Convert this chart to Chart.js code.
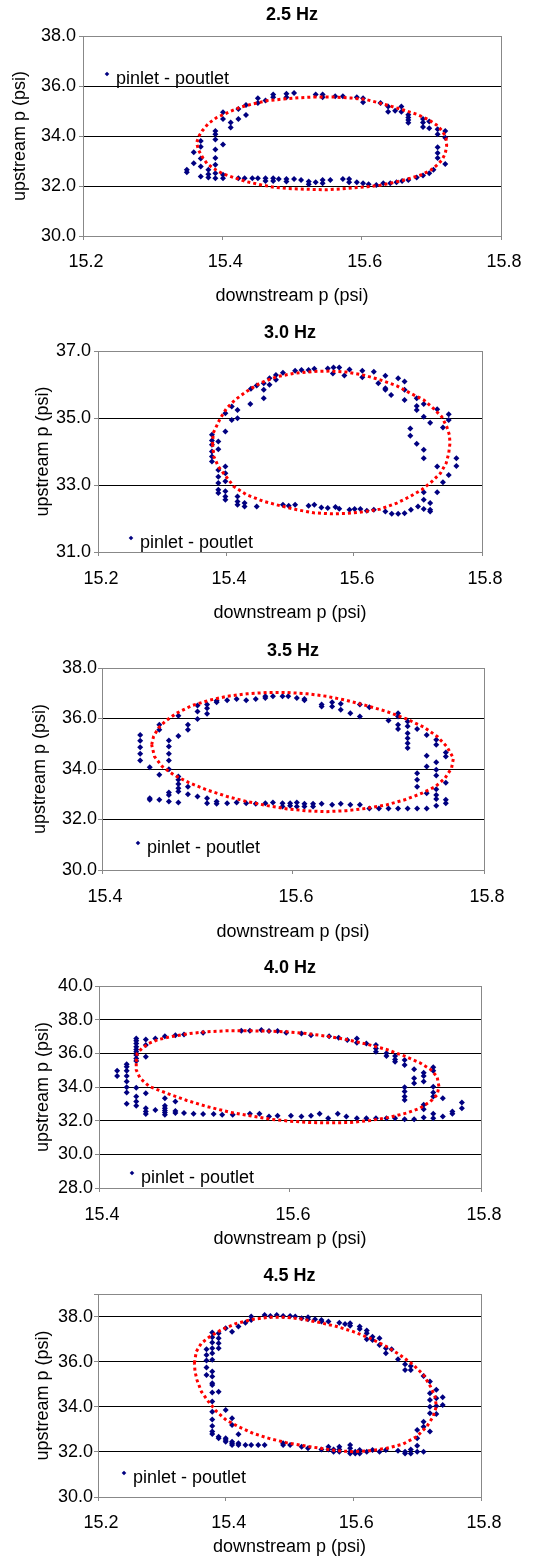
<!DOCTYPE html>
<html>
<head>
<meta charset="utf-8">
<title>upstream vs downstream pressure</title>
<script src="https://cdn.jsdelivr.net/npm/chart.js@4.4.1/dist/chart.umd.min.js"></script>
<style>
    html, body { margin: 0; padding: 0; background: #fff; overflow: hidden; }
    canvas { position: absolute; left: 0; }
</style>
</head>
<body>
<canvas id="c25" width="538" height="310" style="top:0px"></canvas>
<canvas id="c30" width="538" height="320" style="top:310px"></canvas>
<canvas id="c35" width="538" height="320" style="top:630px"></canvas>
<canvas id="c40" width="538" height="310" style="top:950px"></canvas>
<canvas id="c45" width="538" height="300" style="top:1260px"></canvas>
<script>
// measured points, [downstream p, upstream p] in psi
const pts25 = [
    [15.349,32.65],[15.349,32.55],[15.359,33.35],[15.359,32.91],
    [15.369,33.80],[15.369,33.57],[15.369,33.10],[15.369,32.78],[15.369,32.38],
    [15.380,32.65],[15.380,32.47],[15.380,32.34],
    [15.390,34.20],[15.390,34.07],[15.390,33.86],[15.390,33.46],[15.390,33.12],[15.390,32.85],[15.390,32.51],[15.390,32.31],
    [15.401,34.95],[15.401,34.68],[15.401,33.66],[15.401,32.45],[15.401,32.31],
    [15.412,34.54],[15.412,34.34],[15.423,35.08],[15.423,34.68],[15.423,32.31],
    [15.434,35.24],[15.434,34.84],[15.432,32.31],[15.443,32.31],
    [15.451,35.51],[15.451,35.32],[15.451,32.31],[15.462,35.42],[15.462,32.31],[15.462,32.20],
    [15.473,35.66],[15.473,35.55],[15.473,32.31],[15.473,32.20],[15.481,32.28],
    [15.492,35.69],[15.492,35.55],[15.492,32.28],[15.492,32.18],[15.503,35.72],[15.503,32.28],
    [15.513,32.24],[15.524,32.18],[15.524,32.07],[15.534,35.66],[15.534,32.15],
    [15.544,35.66],[15.544,35.55],[15.544,32.24],[15.544,32.11],[15.555,32.24],[15.562,35.59],
    [15.573,35.59],[15.573,32.28],[15.582,32.28],[15.582,32.15],[15.593,35.55],[15.593,32.15],
    [15.602,35.51],[15.602,35.35],[15.602,32.11],[15.610,32.07],[15.621,32.04],[15.627,35.32],
    [15.631,32.11],[15.638,35.18],[15.638,34.97],[15.641,32.11],[15.648,35.01],[15.650,32.15],
    [15.657,35.18],[15.657,34.97],[15.658,32.20],
    [15.667,34.85],[15.667,34.74],[15.667,34.64],[15.667,34.53],[15.667,32.24],[15.679,32.34],
    [15.688,34.68],[15.688,34.54],[15.688,34.36],[15.688,32.42],[15.697,34.58],[15.697,34.31],[15.697,32.51],
    [15.703,32.65],[15.709,34.27],[15.709,34.07],[15.709,33.55],[15.709,33.32],[15.709,33.12],
    [15.720,34.20],[15.720,33.93],[15.720,32.88]
];
const pts30 = [
    [15.378,34.50],[15.378,34.33],[15.378,34.20],[15.378,34.00],[15.378,33.85],[15.378,33.70],
    [15.388,34.30],[15.388,34.07],[15.388,33.45],[15.388,33.25],[15.388,33.06],[15.388,32.86],[15.388,32.76],
    [15.399,35.14],[15.399,34.60],[15.399,33.55],[15.399,33.35],[15.399,33.11],[15.399,32.81],[15.399,32.66],[15.399,32.56],
    [15.409,35.34],[15.409,34.94],[15.418,35.24],[15.418,34.99],[15.418,32.66],[15.418,32.51],[15.418,32.41],
    [15.429,32.46],[15.429,32.36],[15.438,35.42],[15.439,35.87],[15.448,35.97],[15.448,32.36],
    [15.459,36.04],[15.459,35.84],[15.459,35.59],[15.468,36.19],[15.468,35.99],[15.478,36.28],[15.478,36.14],
    [15.489,36.35],[15.489,32.41],[15.498,32.38],[15.508,36.41],[15.508,32.41],[15.518,36.43],
    [15.529,36.43],[15.529,32.38],[15.538,36.47],[15.538,32.41],[15.549,32.33],[15.559,36.48],[15.559,32.31],
    [15.567,36.33],[15.568,36.51],[15.571,32.34],[15.577,36.51],[15.577,32.29],[15.585,36.27],
    [15.593,36.45],[15.593,32.26],[15.601,32.28],[15.610,32.28],[15.613,36.41],[15.613,36.22],[15.620,32.23],
    [15.631,36.38],[15.631,32.26],[15.638,36.04],[15.649,36.26],[15.649,35.89],[15.649,35.84],[15.649,32.21],
    [15.658,35.69],[15.659,32.14],[15.669,36.19],[15.669,32.14],
    [15.679,36.09],[15.679,35.84],[15.679,35.54],[15.679,32.16],[15.688,34.69],[15.688,34.47],[15.689,32.26],
    [15.698,35.59],[15.698,35.36],[15.698,35.24],[15.698,34.23],[15.700,32.36],
    [15.709,35.42],[15.709,35.04],[15.709,34.05],[15.709,33.80],[15.709,32.78],[15.709,32.56],[15.709,32.28],
    [15.719,34.86],[15.719,32.46],[15.719,32.26],[15.719,32.21],[15.730,35.26],[15.730,33.55],[15.730,32.78],
    [15.739,34.72],[15.739,33.08],[15.748,35.11],[15.748,34.94],[15.748,33.30],[15.760,33.80],[15.760,33.57]
];
const pts35 = [
    [15.440,35.35],[15.440,35.12],[15.440,34.86],[15.440,34.60],[15.440,34.34],
    [15.450,34.07],[15.450,32.84],[15.450,32.78],[15.460,35.75],[15.460,35.55],[15.460,33.77],[15.460,32.78],
    [15.470,35.13],[15.470,34.89],[15.470,34.60],[15.470,34.34],[15.470,33.99],[15.470,33.07],[15.470,32.97],[15.470,32.71],
    [15.480,36.11],[15.480,35.31],[15.480,33.70],[15.480,33.57],[15.480,33.41],[15.480,33.24],[15.480,33.11],[15.480,32.67],
    [15.490,35.75],[15.490,35.55],[15.490,33.30],[15.490,33.00],
    [15.500,36.51],[15.500,36.28],[15.500,35.98],[15.500,32.91],
    [15.510,36.55],[15.510,36.41],[15.510,36.19],[15.510,32.84],[15.510,32.64],
    [15.520,36.70],[15.520,36.64],[15.520,32.71],[15.520,32.62],[15.531,36.72],[15.531,32.64],
    [15.541,36.77],[15.541,32.67],[15.551,36.72],[15.551,32.64],[15.561,36.77],[15.561,32.62],
    [15.571,36.88],[15.571,36.81],[15.571,32.64],[15.579,36.88],[15.579,32.67],
    [15.589,36.88],[15.589,32.64],[15.589,32.51],[15.595,36.88],[15.597,32.64],[15.597,32.54],
    [15.604,36.81],[15.604,32.67],[15.604,32.51],[15.612,36.77],[15.612,36.72],[15.612,32.62],[15.612,32.51],
    [15.621,32.62],[15.621,32.51],[15.630,36.55],[15.630,36.48],[15.630,32.62],
    [15.641,36.64],[15.641,36.48],[15.641,32.58],[15.650,36.58],[15.650,36.35],[15.650,32.62],
    [15.660,36.21],[15.660,32.58],[15.670,36.55],[15.670,36.08],[15.670,32.58],
    [15.680,36.45],[15.680,32.44],[15.690,32.44],[15.700,35.92],[15.700,32.44],
    [15.710,36.21],[15.710,36.08],[15.710,35.75],[15.710,35.58],[15.710,32.44],
    [15.720,35.88],[15.720,35.69],[15.720,35.42],[15.720,35.22],[15.720,35.02],[15.720,34.83],[15.720,32.44],
    [15.730,35.58],[15.730,33.83],[15.730,33.57],[15.730,33.30],[15.730,32.44],
    [15.740,35.35],[15.740,34.52],[15.740,34.10],[15.740,33.04],[15.740,32.44],
    [15.750,35.16],[15.750,34.96],[15.750,34.27],[15.750,33.97],[15.750,33.74],[15.750,33.20],[15.750,32.97],[15.750,32.81],[15.750,32.54],
    [15.760,34.65],[15.760,34.50],[15.760,33.46],[15.760,32.78],[15.760,32.64]
];
const pts40 = [
    [15.419,34.97],[15.419,34.65],
    [15.429,35.35],[15.429,35.21],[15.429,34.97],[15.429,34.65],[15.429,34.32],[15.429,33.98],[15.429,33.67],[15.429,33.00],
    [15.439,36.88],[15.439,36.75],[15.439,36.59],[15.439,36.39],[15.439,36.23],[15.439,36.09],[15.439,35.90],[15.439,35.70],[15.439,35.54],
    [15.439,33.96],[15.439,33.43],[15.439,33.14],[15.439,32.88],
    [15.449,36.82],[15.449,36.49],[15.449,35.80],[15.449,33.63],[15.449,32.74],[15.449,32.54],[15.449,32.40],
    [15.459,36.88],[15.459,32.64],
    [15.469,37.02],[15.469,33.33],[15.469,32.88],[15.469,32.74],[15.469,32.60],[15.469,32.49],[15.469,32.35],
    [15.480,37.08],[15.480,33.14],[15.480,32.58],[15.480,32.45],[15.489,37.12],[15.489,32.45],
    [15.499,32.41],[15.509,37.22],[15.509,32.39],[15.520,32.39],[15.529,32.35],[15.540,32.35],
    [15.549,37.34],[15.558,37.34],[15.558,32.41],[15.568,32.41],[15.570,37.38],
    [15.578,37.32],[15.578,32.25],[15.587,37.32],[15.587,32.29],[15.596,37.22],[15.601,32.29],
    [15.612,37.18],[15.612,32.25],[15.622,37.08],[15.622,32.29],[15.631,32.41],[15.640,32.15],[15.641,37.02],
    [15.650,32.41],[15.651,36.92],[15.659,32.25],[15.660,36.79],
    [15.670,36.88],[15.670,36.63],[15.670,32.15],[15.680,36.59],[15.680,32.15],
    [15.690,36.49],[15.690,36.29],[15.690,36.09],[15.690,32.15],[15.701,36.00],[15.701,35.84],[15.701,32.15],
    [15.710,35.84],[15.710,35.64],[15.710,35.50],[15.710,32.15],
    [15.720,35.60],[15.720,35.31],[15.720,33.98],[15.720,33.73],[15.720,33.43],[15.720,33.23],[15.720,32.09],
    [15.730,35.05],[15.730,34.52],[15.730,34.22],[15.730,32.09],
    [15.740,34.85],[15.740,34.65],[15.740,34.32],[15.740,32.94],[15.740,32.68],[15.740,32.19],
    [15.750,35.17],[15.750,34.97],[15.750,34.02],[15.750,33.67],[15.750,33.43],[15.750,32.41],[15.750,32.15],
    [15.760,33.33],[15.760,32.25],[15.770,32.54],[15.770,32.41],[15.780,33.08],[15.780,32.74]
];
const pts45 = [
    [15.370,36.55],[15.370,36.30],[15.370,36.05],[15.370,35.74],[15.370,35.41],
    [15.379,37.29],[15.379,37.08],[15.379,36.85],[15.379,36.59],[15.379,36.37],[15.379,36.08],[15.379,35.56],[15.379,35.34],
    [15.379,35.04],[15.379,34.97],[15.379,34.63],[15.379,34.23],[15.379,33.78],[15.379,33.44],[15.379,33.15],[15.379,32.90],[15.379,32.79],
    [15.389,37.26],[15.389,37.04],[15.389,36.82],[15.389,36.59],[15.389,34.67],[15.389,32.67],[15.389,32.60],
    [15.400,37.48],[15.400,33.86],[15.400,32.60],[15.400,32.53],[15.400,32.45],
    [15.410,37.33],[15.410,33.49],[15.410,33.19],[15.410,32.45],[15.410,32.38],[15.410,32.30],
    [15.420,37.56],[15.420,32.78],[15.420,32.38],[15.420,32.30],[15.431,37.73],[15.431,32.30],
    [15.440,38.00],[15.440,37.85],[15.440,32.30],[15.451,32.30],[15.461,38.07],[15.461,32.30],
    [15.470,38.03],[15.480,38.07],[15.490,38.03],[15.490,32.38],[15.490,32.30],[15.501,38.03],[15.501,32.30],
    [15.509,38.00],[15.519,37.93],[15.519,32.23],[15.529,37.97],[15.529,37.88],[15.529,32.16],[15.540,37.88],
    [15.550,37.85],[15.550,37.78],[15.550,32.11],[15.561,37.78],[15.561,32.23],[15.561,32.11],
    [15.569,32.11],[15.569,32.01],[15.578,37.73],[15.578,32.23],[15.578,32.11],[15.578,32.01],[15.587,37.67],
    [15.595,37.70],[15.595,37.59],[15.595,32.30],[15.595,32.16],[15.595,32.01],[15.595,31.93],[15.603,32.01],[15.603,31.93],
    [15.610,37.56],[15.610,37.45],[15.610,32.08],[15.610,31.93],[15.621,37.38],[15.621,37.26],[15.621,36.99],[15.621,32.01],
    [15.630,37.11],[15.630,36.96],[15.630,32.08],[15.641,37.04],[15.641,36.74],[15.641,32.01],
    [15.651,36.59],[15.651,36.37],[15.651,32.08],[15.660,36.55],[15.670,36.11],[15.670,32.05],
    [15.681,35.88],[15.681,35.63],[15.681,32.01],[15.681,31.93],[15.690,35.81],[15.690,35.63],[15.690,32.11],[15.690,31.93],
    [15.700,32.97],[15.700,32.60],[15.700,32.27],[15.700,32.01],[15.710,35.37],[15.710,33.34],[15.710,33.12],[15.710,32.01],
    [15.720,35.12],[15.720,34.60],[15.720,34.30],[15.720,34.00],[15.720,33.71],[15.720,32.90],
    [15.730,34.75],[15.730,34.38],[15.730,34.04],[15.730,33.68],[15.740,34.42],[15.740,34.08]
];

// fitted loop for each frequency (dotted red)
const fit25 = [
    [15.531,35.56],[15.560,35.56],[15.585,35.52],[15.605,35.47],[15.624,35.33],[15.641,35.20],[15.660,35.04],[15.679,34.87],
    [15.695,34.67],[15.707,34.45],[15.716,34.20],[15.721,33.92],[15.722,33.62],[15.720,33.30],[15.715,33.03],[15.708,32.83],
    [15.699,32.63],[15.684,32.43],[15.665,32.27],[15.646,32.14],[15.627,32.03],[15.608,31.97],[15.589,31.93],[15.569,31.88],
    [15.550,31.85],[15.531,31.86],[15.512,31.88],[15.493,31.90],[15.474,31.95],[15.455,32.05],[15.435,32.17],[15.416,32.34],
    [15.400,32.50],[15.388,32.69],[15.378,32.90],[15.371,33.17],[15.366,33.43],[15.363,33.72],[15.366,33.98],[15.371,34.20],
    [15.380,34.50],[15.392,34.74],[15.411,34.98],[15.425,35.14],[15.443,35.28],[15.464,35.41],[15.488,35.48],[15.510,35.53],
    [15.531,35.56]
];
const fit30 = [
    [15.379,34.20],[15.380,34.55],[15.386,34.79],[15.391,34.99],[15.401,35.29],[15.414,35.54],[15.432,35.79],[15.453,36.04],
    [15.479,36.23],[15.505,36.33],[15.537,36.39],[15.563,36.40],[15.589,36.37],[15.615,36.28],[15.641,36.14],[15.667,35.96],
    [15.688,35.74],[15.709,35.54],[15.724,35.29],[15.737,35.04],[15.745,34.74],[15.749,34.50],[15.750,34.25],[15.748,33.95],
    [15.744,33.65],[15.735,33.35],[15.722,33.11],[15.706,32.86],[15.688,32.66],[15.667,32.46],[15.641,32.28],[15.615,32.20],
    [15.589,32.15],[15.563,32.14],[15.537,32.17],[15.511,32.26],[15.485,32.38],[15.459,32.51],[15.432,32.71],[15.412,32.96],
    [15.399,33.28],[15.388,33.55],[15.381,33.85],[15.379,34.20]
];
const fit35 = [
    [15.452,34.96],[15.454,35.29],[15.459,35.62],[15.466,35.88],[15.478,36.21],[15.494,36.51],[15.512,36.72],[15.531,36.88],
    [15.552,36.98],[15.573,37.03],[15.594,37.03],[15.615,36.98],[15.635,36.88],[15.656,36.72],[15.677,36.51],[15.698,36.28],
    [15.719,35.98],[15.737,35.66],[15.751,35.29],[15.761,34.89],[15.768,34.43],[15.766,34.03],[15.759,33.63],[15.749,33.30],
    [15.735,33.04],[15.717,32.78],[15.698,32.58],[15.677,32.44],[15.656,32.35],[15.635,32.31],[15.615,32.34],[15.594,32.42],
    [15.573,32.55],[15.552,32.71],[15.531,32.91],[15.510,33.17],[15.491,33.46],[15.475,33.77],[15.463,34.10],[15.455,34.49],
    [15.452,34.96]
];
const fit40 = [
    [15.439,35.50],[15.440,36.00],[15.445,36.29],[15.452,36.59],[15.462,36.82],[15.478,37.02],[15.495,37.18],[15.513,37.28],
    [15.534,37.34],[15.555,37.34],[15.576,37.32],[15.597,37.28],[15.617,37.18],[15.638,37.02],[15.659,36.82],[15.680,36.55],
    [15.701,36.23],[15.720,35.84],[15.736,35.44],[15.747,35.05],[15.754,34.62],[15.756,34.02],[15.754,33.53],[15.747,33.14],
    [15.736,32.74],[15.722,32.45],[15.705,32.21],[15.684,32.01],[15.663,31.89],[15.642,31.87],[15.621,31.89],[15.600,31.97],
    [15.579,32.09],[15.558,32.29],[15.537,32.50],[15.513,32.84],[15.492,33.20],[15.471,33.63],[15.453,34.02],[15.443,34.52],
    [15.439,35.01],[15.439,35.50]
];
const fit45 = [
    [15.351,35.93],[15.354,36.45],[15.362,36.82],[15.375,37.11],[15.393,37.41],[15.417,37.70],[15.443,37.88],[15.469,37.97],
    [15.495,37.97],[15.521,37.88],[15.548,37.73],[15.574,37.56],[15.600,37.33],[15.626,37.04],[15.652,36.67],[15.673,36.30],
    [15.694,35.86],[15.710,35.41],[15.721,34.89],[15.728,34.45],[15.730,34.01],[15.725,33.56],[15.715,33.12],[15.699,32.67],
    [15.678,32.35],[15.652,32.16],[15.626,32.05],[15.600,32.01],[15.574,32.05],[15.548,32.16],[15.521,32.28],[15.495,32.41],
    [15.469,32.59],[15.443,32.82],[15.420,33.12],[15.401,33.41],[15.386,33.78],[15.373,34.23],[15.362,34.67],[15.355,35.19],
    [15.352,35.56],[15.351,35.93]
];

const titles = ['2.5 Hz', '3.0 Hz', '3.5 Hz', '4.0 Hz', '4.5 Hz'];
const xRanges = [[15.2, 15.8], [15.2, 15.8], [15.4, 15.8], [15.4, 15.8], [15.2, 15.8]];
const yRanges = [[30, 38], [31, 37], [30, 38], [28, 40], [30, 39]];

const FONT = '"Liberation Sans", Arial, sans-serif';
const GREY = '#888888';
const NAVY = '#000080';
const TICK = 4;
const FS = 18;
const HALF = FS * 1.2 / 2;

// frame geometry of each panel inside its canvas (px)
const frames = [
    {id: 'c25', pts: pts25, fit: fit25, h: 310, tc: 15, top: 36, bot: 236, xt: 262, xtt: 296, left: 83, right: 501, ytr: 76, ytx: 20, key: [24, 38]},
    {id: 'c30', pts: pts30, fit: fit30, h: 320, tc: 23, top: 41, bot: 242, xt: 269, xtt: 303, left: 98, right: 482, ytr: 91, ytx: 43, key: [33, 187]},
    {id: 'c35', pts: pts35, fit: fit35, h: 320, tc: 21, top: 38, bot: 240, xt: 267, xtt: 302, left: 102, right: 484, ytr: 97, ytx: 40, key: [36, 175]},
    {id: 'c40', pts: pts40, fit: fit40, h: 310, tc: 18, top: 36, bot: 238, xt: 265, xtt: 289, left: 99, right: 481, ytr: 93, ytx: 43, key: [33, 187]},
    {id: 'c45', pts: pts45, fit: fit45, h: 300, tc: 16, top: 34, bot: 237, xt: 263, xtt: 287, left: 98, right: 481, ytr: 93, ytx: 43, key: [26, 179]}
];

// series key drawn inside the plot area
const inlineKey = {
    id: 'inlineKey',
    afterDatasetsDraw(chart, args, opts) {
        const ctx = chart.ctx;
        const x = chart.chartArea.left + opts.dx;
        const y = chart.chartArea.top + opts.dy;
        ctx.save();
        ctx.fillStyle = NAVY;
        Chart.helpers.drawPoint(ctx, {pointStyle: 'rectRot', radius: 2.3, borderWidth: 0}, x, y);
        ctx.fillStyle = '#000';
        ctx.font = FS + 'px ' + FONT;
        ctx.textBaseline = 'middle';
        ctx.textAlign = 'left';
        ctx.fillText(chart.data.datasets[0].label, x + 9, y + 5);
        ctx.restore();
    }
};

function toXY(list) {
    return list.map(function (p) { return {x: p[0], y: p[1]}; });
}

frames.forEach(function (f, i) {
    const xr = xRanges[i], yr = yRanges[i];
    new Chart(document.getElementById(f.id), {
        type: 'scatter',
        data: {
            datasets: [{
                label: 'pinlet - poutlet',
                data: toXY(f.pts),
                pointStyle: 'rectRot',
                pointRadius: 3,
                backgroundColor: NAVY,
                borderWidth: 0,
                order: 2
            }, {
                label: 'fit',
                data: toXY(f.fit),
                showLine: true,
                pointRadius: 0,
                borderColor: '#ff0000',
                borderWidth: 3,
                borderDash: [3, 3],
                tension: 0,
                order: 1
            }]
        },
        options: {
            responsive: false,
            animation: false,
            events: [],
            layout: {padding: {left: 0, top: 0, bottom: 0, right: 538 - f.right}},
            plugins: {
                legend: {display: false},
                tooltip: {enabled: false},
                title: {
                    display: true,
                    text: titles[i],
                    fullSize: false,
                    color: '#000',
                    font: {family: FONT, size: FS, weight: 'bold'},
                    padding: {top: f.tc - HALF, bottom: f.top - f.tc - HALF}
                },
                inlineKey: {dx: f.key[0], dy: f.key[1]}
            },
            scales: {
                x: {
                    type: 'linear',
                    min: xr[0],
                    max: xr[1],
                    afterFit: function (s) { s.height = f.h - f.bot; },
                    border: {color: GREY, width: 1},
                    grid: {
                        color: function (c) { return c.index === c.scale.ticks.length - 1 ? GREY : 'rgba(0,0,0,0)'; },
                        tickColor: GREY,
                        tickLength: TICK
                    },
                    ticks: {
                        stepSize: 0.2,
                        color: '#000',
                        font: {family: FONT, size: FS},
                        padding: f.xt - f.bot - TICK - HALF,
                        labelOffset: 3,
                        maxRotation: 0,
                        callback: function (v) { return v.toFixed(1); }
                    },
                    title: {
                        display: true,
                        text: 'downstream p (psi)',
                        color: '#000',
                        font: {family: FONT, size: FS},
                        padding: {top: 0, bottom: f.h - f.xtt - HALF}
                    }
                },
                y: {
                    min: yr[0],
                    max: yr[1],
                    afterFit: function (s) { s.width = f.left; },
                    border: {color: GREY, width: 1},
                    grid: {
                        color: function (c) {
                            const v = c.tick.value;
                            return (v === yr[0] || v === yr[1]) ? GREY : '#000';
                        },
                        tickColor: GREY,
                        tickLength: TICK
                    },
                    ticks: {
                        stepSize: 2,
                        color: '#000',
                        font: {family: FONT, size: FS},
                        padding: f.left - TICK - f.ytr,
                        callback: function (v) { return (v - yr[0]) % 2 === 0 ? v.toFixed(1) : ''; }
                    },
                    title: {
                        display: true,
                        text: 'upstream p (psi)',
                        color: '#000',
                        font: {family: FONT, size: FS},
                        padding: {top: f.ytx - HALF, bottom: 0}
                    }
                }
            }
        },
        plugins: [inlineKey]
    });
});
</script>
</body>
</html>
